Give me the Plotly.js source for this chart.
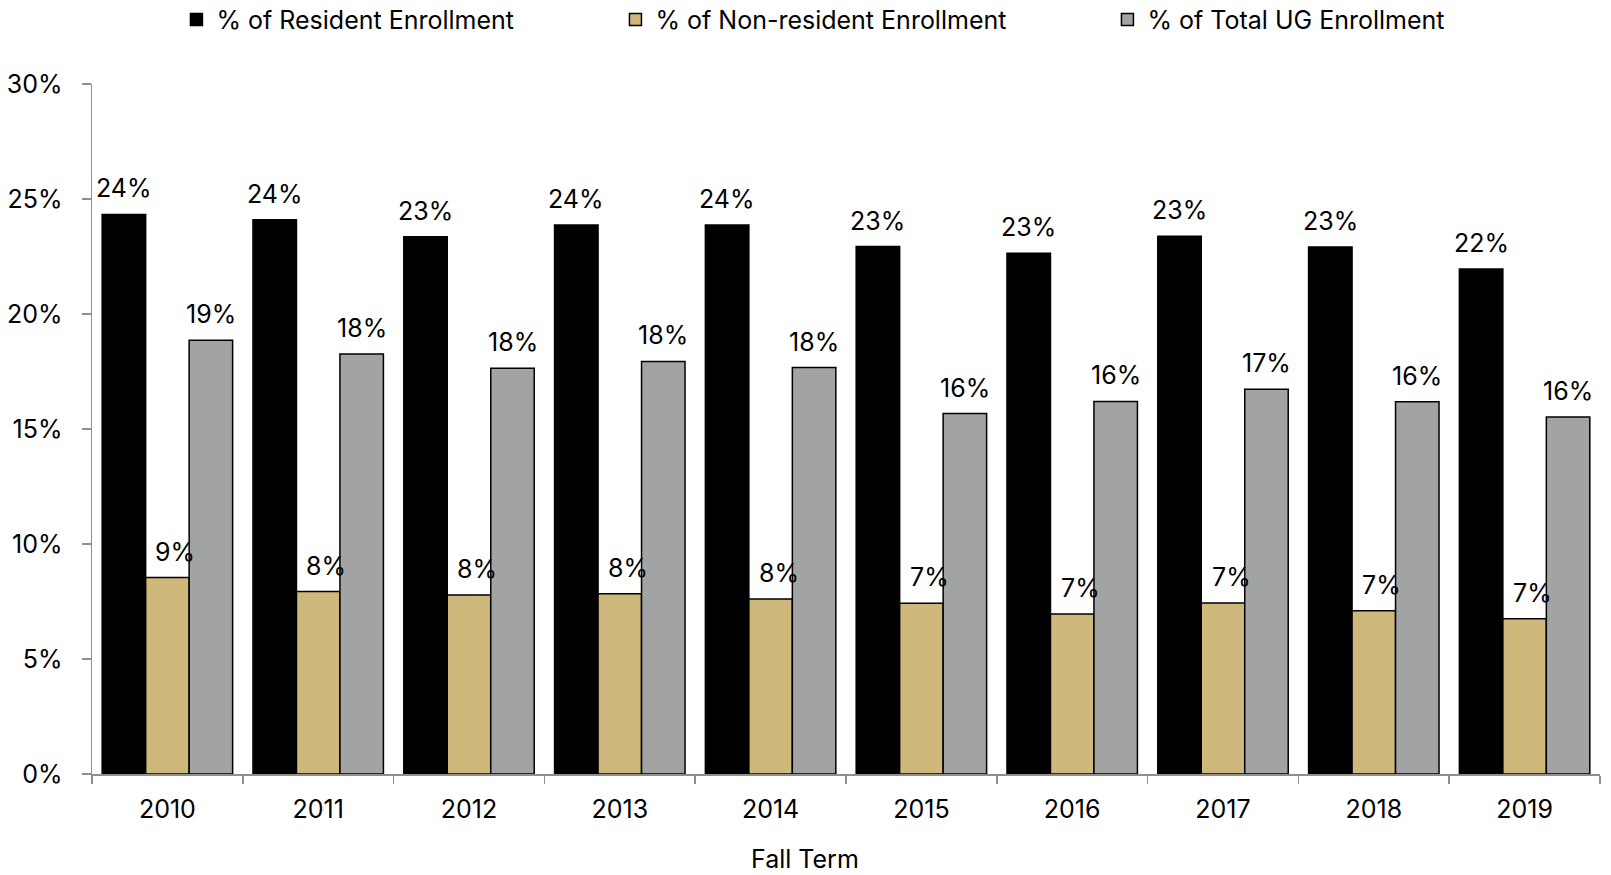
<!DOCTYPE html>
<html>
<head>
<meta charset="utf-8">
<script src="https://cdn.plot.ly/plotly-3.0.1.min.js"></script>
<style>
  html, body { margin: 0; padding: 0; background: #ffffff; }
  #chart { width: 1611px; height: 875px; }
</style>
</head>
<body>
<div id="chart"></div>
<script>
// Data (percent values)
const years = ['2010', '2011', '2012', '2013', '2014', '2015', '2016', '2017', '2018', '2019'];
const residentPct = [24.33, 24.10, 23.36, 23.87, 23.87, 22.93, 22.64, 23.38, 22.91, 21.96];
const nonResidentPct = [8.54, 7.93, 7.78, 7.84, 7.61, 7.42, 6.96, 7.43, 7.10, 6.75];
const totalUgPct = [18.86, 18.26, 17.64, 17.94, 17.67, 15.67, 16.20, 16.73, 16.19, 15.52];
const seriesNames = ['% of Resident Enrollment', '% of Non-resident Enrollment', '% of Total UG Enrollment'];
const yTickValues = [0, 5, 10, 15, 20, 25, 30];
const xAxisTitle = 'Fall Term';

const FONT = 'Inter, "Liberation Sans", Arial, sans-serif';
const FS = 25;
const colors = ['#000000', '#CFB87C', '#A2A4A3'];
const seriesValues = [residentPct, nonResidentPct, totalUgPct];
const legendWidths = [394, 447, 330];

const traces = seriesValues.map((vals, i) => ({
  type: 'bar',
  name: seriesNames[i],
  x: years,
  y: vals,
  marker: { color: colors[i], line: { color: '#000000', width: 1.5 } },
  legendwidth: legendWidths[i],
  hoverinfo: 'x+y+name'
}));

// Data labels above each bar
const offsets = [-43.5, 0, 43.5];
const labelShiftX = [0, 8, 0];
const annotations = [];
seriesValues.forEach((vals, i) => {
  vals.forEach((v, j) => {
    annotations.push({
      x: j, y: v, xref: 'x', yref: 'y',
      text: Math.round(v) + '%',
      showarrow: false,
      xanchor: 'center', yanchor: 'bottom',
      xshift: offsets[i] + labelShiftX[i], yshift: 9,
      font: { family: FONT, size: FS, color: '#000000' }
    });
  });
});
annotations.push({
  x: 0.473, y: -0.123, xref: 'paper', yref: 'paper',
  text: xAxisTitle, showarrow: false,
  xanchor: 'center', yanchor: 'middle',
  font: { family: FONT, size: FS, color: '#000000' }
});

const layout = {
  width: 1611, height: 875,
  margin: { l: 92, r: 11, t: 84, b: 101, pad: 0, autoexpand: false },
  paper_bgcolor: '#ffffff', plot_bgcolor: '#ffffff',
  font: { family: FONT, size: FS, color: '#000000' },
  barmode: 'group',
  bargap: 0.135,
  bargroupgap: 0,
  showlegend: true,
  legend: {
    orientation: 'h',
    x: 0.056, xanchor: 'left',
    y: 1.093, yanchor: 'middle',
    bgcolor: 'rgba(0,0,0,0)',
    font: { family: FONT, size: FS, color: '#000000' },
    itemwidth: 30,
    traceorder: 'normal'
  },
  xaxis: {
    type: 'category',
    range: [-0.5, 9.5],
    autorange: false,
    showgrid: false,
    showline: true, linecolor: '#8f8f8f', linewidth: 1.5,
    ticks: 'outside', ticklen: 8, tickwidth: 1.5, tickcolor: '#8f8f8f',
    tickson: 'boundaries',
    tickangle: 0,
    tickfont: { family: FONT, size: FS, color: '#000000' },
    ticklabelstandoff: 12,
    zeroline: false,
    fixedrange: true
  },
  yaxis: {
    range: [0, 30],
    autorange: false,
    tickvals: yTickValues,
    ticktext: yTickValues.map(v => v + '%'),
    showgrid: false,
    showline: true, linecolor: '#8f8f8f', linewidth: 1.5,
    ticks: 'outside', ticklen: 9, tickwidth: 1.5, tickcolor: '#8f8f8f',
    tickfont: { family: FONT, size: FS, color: '#000000' },
    ticklabelstandoff: 14,
    zeroline: false,
    fixedrange: true
  },
  annotations: annotations
};

Plotly.newPlot('chart', traces, layout, { displayModeBar: false, staticPlot: true });
</script>
</body>
</html>
